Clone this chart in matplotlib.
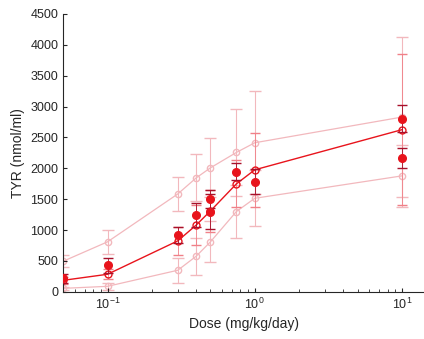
import matplotlib
matplotlib.use("Agg")
import matplotlib.pyplot as plt

plt.rcParams['font.family'] = ['Liberation Sans', 'DejaVu Sans']

# doses (mg/kg/day)
dose = [0.05, 0.1, 0.3, 0.4, 0.5, 0.75, 1.0, 10.0]

# model mean (open red circles) and its spread
mean_tyr = [187, 285, 826, 1081, 1310, 1748, 1976, 2626]
mean_err = [60, 80, 230, 330, 340, 380, 600, 1220]

# upper / lower bands (light pink)
upper_tyr = [496, 810, 1585, 1845, 2008, 2257, 2414, 2830]
upper_err = [100, 190, 270, 380, 480, 700, 830, 1300]
lower_tyr = [57, 90, 350, 577, 810, 1300, 1515, 1878]
lower_err = [30, 60, 200, 300, 330, 430, 450, 500]

# observed data (filled red dots)
obs_dose = [0.05, 0.1, 0.3, 0.4, 0.5, 0.5, 0.75, 1.0, 10.0, 10.0]
obs_tyr = [219, 430, 918, 1244, 1298, 1504, 1948, 1785, 2805, 2170]
obs_err = [70, 120, 130, 200, 280, 150, 140, 200, 220, 160]

red = '#e8141c'
pink = '#f2b8bd'
dark = '#a8102a'

fig = plt.figure(figsize=(4.24, 3.39), dpi=100)
ax = fig.add_axes([0.149, 0.139, 0.851, 0.82])

for y, e in [(upper_tyr, upper_err), (lower_tyr, lower_err)]:
    ax.errorbar(dose, y, yerr=e, color=pink, lw=0.9, marker='o', ms=4.5,
                mfc='none', mec=pink, capsize=4, elinewidth=0.8, zorder=1)

ax.errorbar(dose, mean_tyr, yerr=mean_err, color=red, lw=1.0, marker='o', ms=5,
            mfc='none', mec=red, capsize=3.5, elinewidth=0.6, ecolor='#f08088', zorder=2)

ax.errorbar(obs_dose, obs_tyr, yerr=obs_err, fmt='o', color=red, ms=5.5,
            ecolor=dark, capsize=3.5, elinewidth=0.6, zorder=3)

ax.set_xscale('log')
ax.set_xlim(0.05, 14.1)
ax.set_ylim(0, 4500)
ax.set_yticks(range(0, 4501, 500))
ax.set_xticks([0.1, 1, 10])

for s in ['top', 'right']:
    ax.spines[s].set_visible(False)
for s in ['left', 'bottom']:
    ax.spines[s].set_color('#262626')
    ax.spines[s].set_linewidth(0.8)
ax.tick_params(direction='in', labelsize=9, colors='#262626', length=3)
ax.tick_params(which='minor', direction='in', length=2, colors='#262626')

ax.set_xlabel('Dose (mg/kg/day)', fontsize=10, color='#262626')
ax.set_ylabel('TYR (nmol/ml)', fontsize=10, color='#262626')

fig.savefig('out.png', dpi=100)
